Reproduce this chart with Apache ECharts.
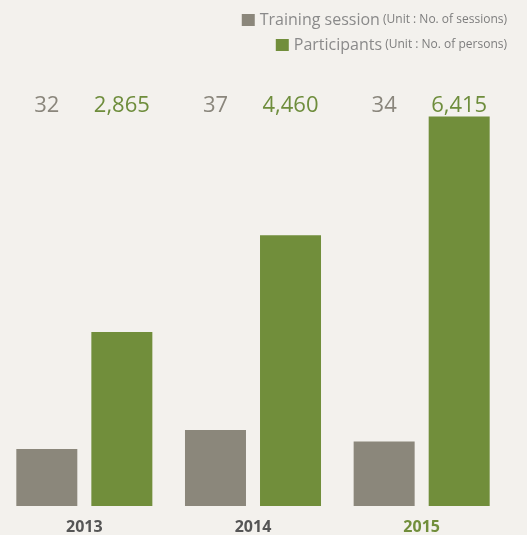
<!DOCTYPE html>
<html>
<head>
<meta charset="utf-8">
<script src="https://cdn.jsdelivr.net/npm/echarts@6/dist/echarts.min.js"></script>
<style>
  html, body { margin: 0; padding: 0; background: #f3f1ed; }
  #chart { width: 527px; height: 535px; }
</style>
</head>
<body>
<div id="chart"></div>
<script>
// Training programmes by year
const years = ['2013', '2014', '2015'];
const sessions = [32, 37, 34];          // Unit: No. of sessions
const participants = [2865, 4460, 6415]; // Unit: No. of persons

const GREY = '#8b877b';
const GREEN = '#718e3b';
const FONT = '"Open Sans", "Noto Sans", sans-serif';

const fmt = v => v.toLocaleString('en-US');

const chart = echarts.init(document.getElementById('chart'), null, { renderer: 'canvas' });

const legendRich = {
  a: { fontSize: 16, color: '#8a8a8a', fontFamily: FONT },
  b: { fontSize: 12, color: '#7d7d7d', fontFamily: FONT }
};

chart.setOption({
  backgroundColor: '#f3f1ed',
  animation: false,
  textStyle: { fontFamily: FONT },
  legend: [
    {
      data: ['Training session'],
      right: 15, top: 7,
      icon: 'rect', itemWidth: 13, itemHeight: 12,
      formatter: n => '{a|' + n + '} {b|(Unit : No. of sessions)}',
      textStyle: { rich: legendRich }
    },
    {
      data: ['Participants'],
      right: 15, top: 32,
      icon: 'rect', itemWidth: 13, itemHeight: 12,
      formatter: n => '{a|' + n + '} {b|(Unit : No. of persons)}',
      textStyle: { rich: legendRich }
    }
  ],
  grid: { left: 0, width: 506, top: 81, height: 425 },
  xAxis: [
    {
      type: 'category',
      data: years,
      axisLine: { show: false },
      axisTick: { show: false },
      axisLabel: {
        margin: 13,
        fontSize: 16,
        fontWeight: 'bold',
        fontFamily: FONT,
        color: (v, i) => (i === years.length - 1 ? GREEN : '#555555')
      }
    },
    {
      // value read-outs above each pair of bars
      type: 'category',
      position: 'top',
      data: years,
      axisLine: { show: false },
      axisTick: { show: false },
      axisLabel: {
        inside: true,
        margin: 14,
        formatter: (v, i) => '{g|' + sessions[i] + '}{p|' + fmt(participants[i]) + '}',
        rich: {
          g: { width: 75, align: 'center', fontSize: 22, color: '#8a867c', fontFamily: FONT },
          p: { width: 75, align: 'center', fontSize: 22, color: '#6e8d3c', fontFamily: FONT }
        }
      }
    }
  ],
  yAxis: [
    { type: 'value', min: 0, max: 7000, show: false, splitLine: { show: false } },
    { type: 'value', min: 17, max: 129, show: false, splitLine: { show: false } }
  ],
  series: [
    {
      name: 'Training session',
      type: 'bar',
      yAxisIndex: 1,
      data: sessions,
      barWidth: 61,
      barGap: '23%',
      itemStyle: { color: GREY }
    },
    {
      name: 'Participants',
      type: 'bar',
      yAxisIndex: 0,
      data: participants,
      barWidth: 61,
      barGap: '23%',
      itemStyle: { color: GREEN }
    }
  ]
});
</script>
</body>
</html>
